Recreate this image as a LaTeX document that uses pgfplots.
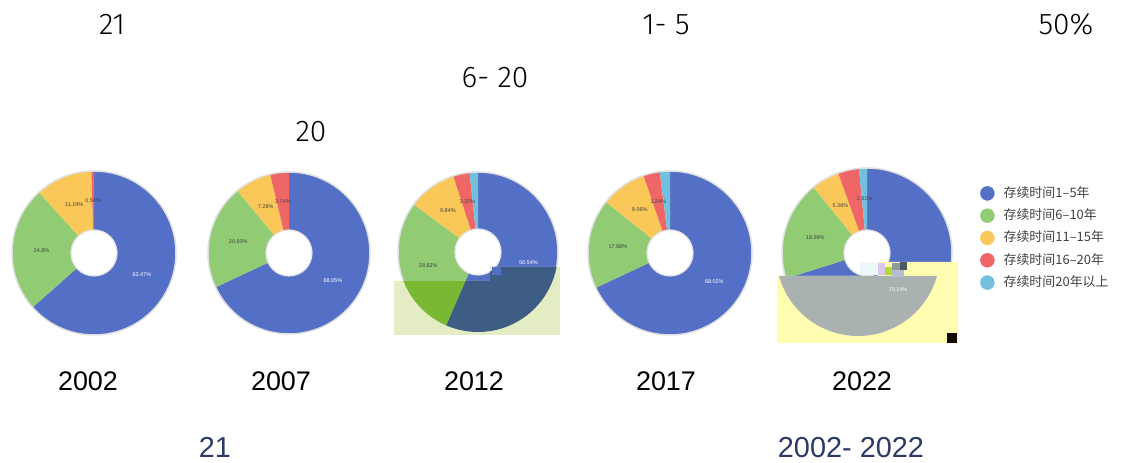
\documentclass[border=0pt]{standalone}
\usepackage{pgfplots}
\usepackage{pgfplotstable}
\pgfplotsset{compat=1.18}
\usepackage{fontspec}
\setmainfont{Liberation Sans}
\newfontfamily\cjk{Noto Sans CJK SC}
\IfFontExistsTF{Fira Sans Light}{\newfontfamily\thinf{Fira Sans Light}}{%
  \IfFontExistsTF{Lato Light}{\newfontfamily\thinf{Lato Light}}{\newfontfamily\thinf{Liberation Sans}}}

\definecolor{c0}{HTML}{5470C6}
\definecolor{c1}{HTML}{91CC75}
\definecolor{c2}{HTML}{FAC858}
\definecolor{c3}{HTML}{EE6666}
\definecolor{c4}{HTML}{73C0DE}
\definecolor{d0}{HTML}{3E5D85}
\definecolor{d1}{HTML}{78B832}
\definecolor{d2}{HTML}{C8B040}
\definecolor{d3}{HTML}{C05050}
\definecolor{d4}{HTML}{5C9AB0}
\definecolor{ovA}{HTML}{E4ECC3}
\definecolor{ovB}{HTML}{FFFDB0}
\definecolor{ovG}{HTML}{A9B2B1}
\definecolor{a1}{HTML}{EEF8FA}
\definecolor{a2}{HTML}{D9C9F2}
\definecolor{a3}{HTML}{B8D838}
\definecolor{a4}{HTML}{8C9A9C}
\definecolor{a5}{HTML}{4A5A5E}
\definecolor{a6}{HTML}{B4BCD0}
\definecolor{a7}{HTML}{140A00}
\definecolor{navy}{HTML}{2B3A67}

% shares (%) by duration class (rows) and year (columns)
\pgfplotstableread{
cat y2002 y2007 y2012 y2017 y2022
0 63.47 68.05 56.54 68.02 70.14
1 24.8 20.93 28.62 17.68 18.99
2 11.19 7.28 9.84 9.06 5.36
3 0.54 3.74 3.32 3.24 4.00
4 0 0 1.68 2.00 1.51
}\shares

% #1 column, #2 cx, #3 cy (from top), #4 R, #5 r, #6 colour prefix, #7 hole colour, #8 labels, #9 hidden label
\newcommand\donut[9]{%
  \pgfmathsetmacro\cyy{463-#3}%
  \pgfmathsetmacro\rmid{(#4+#5)/2}%
  \def\cum{0}%
  \pgfplotsforeachungrouped \k in {0,1,2,3,4}{%
    \pgfplotstablegetelem{\k}{#1}\of\shares
    \let\val\pgfplotsretval
    \ifdim\val pt>0pt
      \pgfmathsetmacro\aA{90-3.6*\cum}%
      \pgfmathsetmacro\aB{90-3.6*(\cum+\val)}%
      \edef\cmd{\noexpand\fill[#6\k] (axis cs:#2,\cyy) -- ++(\aA:#4bp) arc[start angle=\aA, end angle=\aB, radius=#4bp] -- cycle;}%
      \cmd
    \fi
    \pgfmathsetmacro\cum{\cum+\val}%
  }%
  \ifnum#8=1
    \edef\cmd{\noexpand\draw[black!12, line width=1.5bp] (axis cs:#2,\cyy) circle[radius=#4bp];}\cmd
    \edef\cmd{\noexpand\fill[#7, draw=black!10, line width=1.2bp] (axis cs:#2,\cyy) circle[radius=#5bp];}\cmd
    \def\cum{0}%
    \pgfplotsforeachungrouped \k in {0,1,2,3,4}{%
      \pgfplotstablegetelem{\k}{#1}\of\shares
      \let\val\pgfplotsretval
      \ifdim\val pt>0pt
        \ifnum\k=#9\else
        \pgfmathsetmacro\aM{90-3.6*(\cum+\val/2)}%
        \pgfmathsetmacro\lx{#2+\rmid*cos(\aM)}%
        \pgfmathsetmacro\ly{\cyy+\rmid*sin(\aM)}%
        \edef\cmd{\noexpand\node[font=\noexpand\fontsize{5.5}{6}\noexpand\selectfont, text=\ifnum\k=0 white\else black!75\fi, inner sep=0pt] at (axis cs:\lx,\ly) {\val\noexpand\%};}%
        \cmd
        \fi
      \fi
      \pgfmathsetmacro\cum{\cum+\val}%
    }%
  \else
    \edef\cmd{\noexpand\fill[#7] (axis cs:#2,\cyy) circle[radius=#5bp];}\cmd
  \fi
}

\begin{document}
\begin{tikzpicture}
\begin{axis}[
  x=1bp, y=1bp, xmin=0, xmax=1121, ymin=0, ymax=463,
  hide axis, clip=false,
  legend cell align=left,
  legend image code/.code={\fill[#1] (7bp,0) circle[radius=7bp];},
  legend style={at={(0.8742,0.5983)}, anchor=north west, draw=none, fill=none,
    inner sep=0pt, row sep=7.9bp,
    font=\cjk\fontsize{13}{15}\selectfont, text=black!75,
    nodes={inner sep=0pt, text height=11bp, text depth=3bp},
    /tikz/every odd column/.append style={column sep=9bp}},
]
\path (axis cs:0,0) rectangle (axis cs:1121,463);

\donut{y2002}{94}{253}{82}{23}{c}{white}{1}{9}
\donut{y2007}{289}{253}{81}{23}{c}{white}{1}{9}
\donut{y2012}{478}{252}{80}{23}{c}{white}{1}{4}
\donut{y2017}{670}{253}{82}{23}{c}{white}{1}{4}
\donut{y2022}{867}{253}{85}{23}{c}{white}{1}{3}

% overlay on 2012 donut
\fill[ovA] (axis cs:394,182) -- (axis cs:490,182) -- (axis cs:490,196) -- (axis cs:560,196) -- (axis cs:560,128) -- (axis cs:394,128) -- cycle;
\begin{scope}
\clip (axis cs:394,182) -- (axis cs:490,182) -- (axis cs:490,196) -- (axis cs:560,196) -- (axis cs:560,128) -- (axis cs:394,128) -- cycle;
\donut{y2012}{478}{252}{80}{23}{d}{ovA}{0}{9}
\end{scope}
\fill[c0] (axis cs:492,196) rectangle (axis cs:501,188);

% overlay on 2022 donut
\fill[ovB] (axis cs:777,187) -- (axis cs:877,187) -- (axis cs:877,201) -- (axis cs:958,201) -- (axis cs:958,120) -- (axis cs:777,120) -- cycle;
\fill[ovG] (axis cs:858,209) ++(-15.56:82bp) arc[start angle=-15.56, end angle=-164.44, radius=82bp] -- cycle;
\fill[a1] (axis cs:860,201) rectangle (axis cs:878,188);
\fill[a2] (axis cs:878,200) rectangle (axis cs:885,188);
\fill[a3] (axis cs:885,196) rectangle (axis cs:892,188);
\fill[a4] (axis cs:892,200) rectangle (axis cs:900,193);
\fill[a5] (axis cs:900,201) rectangle (axis cs:907,193);
\fill[a6] (axis cs:892,193) rectangle (axis cs:904,186);
\fill[a7] (axis cs:947,130) rectangle (axis cs:957,120);
\node[font=\fontsize{5.5}{6}\selectfont, text=white, inner sep=0pt] at (axis cs:898,173) {70.14\%};

% text
\begin{scope}[every node/.style={anchor=base, inner sep=0pt}]
\node[font=\thinf\fontsize{30}{33}\selectfont] at (axis cs:112,428) {21};
\node[font=\thinf\fontsize{30}{33}\selectfont] at (axis cs:666,428) {1- 5};
\node[font=\thinf\fontsize{30}{33}\selectfont] at (axis cs:1066,428) {50\%};
\node[font=\thinf\fontsize{30}{33}\selectfont] at (axis cs:495,375) {6- 20};
\node[font=\thinf\fontsize{30}{33}\selectfont] at (axis cs:311,321) {20};
\node[font=\fontsize{27}{30}\selectfont] at (axis cs:88,72) {2002};
\node[font=\fontsize{27}{30}\selectfont] at (axis cs:281,72) {2007};
\node[font=\fontsize{27}{30}\selectfont] at (axis cs:474,72) {2012};
\node[font=\fontsize{27}{30}\selectfont] at (axis cs:666,72) {2017};
\node[font=\fontsize{27}{30}\selectfont] at (axis cs:862,72) {2022};
\node[font=\fontsize{29}{32}\selectfont, text=navy] at (axis cs:215,5) {21};
\node[font=\fontsize{29}{32}\selectfont, text=navy] at (axis cs:851,5) {2002- 2022};
\end{scope}

\addlegendimage{c0}\addlegendentry{存续时间1–5年}
\addlegendimage{c1}\addlegendentry{存续时间6–10年}
\addlegendimage{c2}\addlegendentry{存续时间11–15年}
\addlegendimage{c3}\addlegendentry{存续时间16–20年}
\addlegendimage{c4}\addlegendentry{存续时间20年以上}
\end{axis}
\end{tikzpicture}
\end{document}
